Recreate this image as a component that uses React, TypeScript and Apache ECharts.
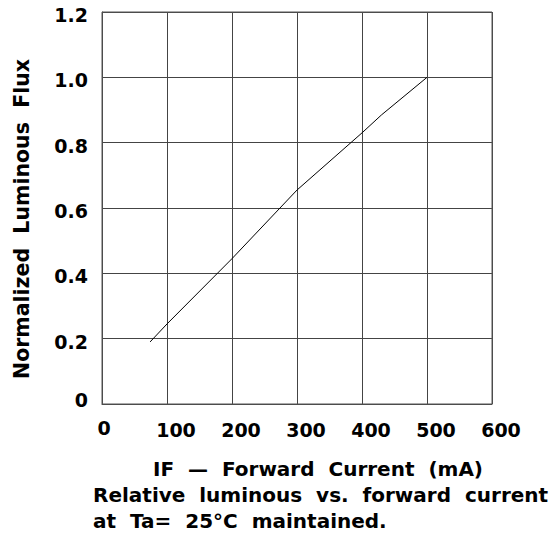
import React, { useEffect, useRef } from "react";
import * as echarts from "echarts";

const currentMA = [74, 100, 200, 300, 400, 430, 500];
const relativeFlux = [0.19, 0.245, 0.445, 0.655, 0.83, 0.885, 1.0];
const xTicks = [0, 100, 200, 300, 400, 500, 600];
const yTicks = ["0", "0.2", "0.4", "0.6", "0.8", "1.0", "1.2"];
const yAxisTitle = "Normalized  Luminous  Flux";
const xAxisTitle = "IF  \u2014  Forward  Current  (mA)";
const caption1 = "Relative  luminous  vs.  forward  current";
const caption2 = "at  Ta=  25\u00B0C  maintained.";

const FONT = "DejaVu Sans";

export default function App() {
  const ref = useRef<HTMLDivElement>(null);
  useEffect(() => {
    if (!ref.current) return;
    const chart = echarts.init(ref.current, null, { renderer: "svg" });
    const textStyle = { fontFamily: FONT, fontWeight: "bold" as const, fontSize: 20, fill: "#000" };
    const tickFont = { fontFamily: FONT, fontWeight: "bold" as const, fontSize: 19, color: "#000" };
    chart.setOption({
      animation: false,
      backgroundColor: "#fff",
      grid: { left: 102, right: 60, top: 12, bottom: 131, containLabel: false },
      xAxis: {
        type: "value",
        min: 0,
        max: 600,
        interval: 100,
        axisLine: { show: true, lineStyle: { color: "#444", width: 1 } },
        axisTick: { show: false },
        splitLine: { show: true, lineStyle: { color: "#444", width: 1 } },
        axisLabel: {
          margin: 14,
          ...tickFont,
          formatter: (v: number) => {
            const t = xTicks.find((k) => k === v) ?? v;
            return t === 0 ? `{z|${t}}` : `{a|${t}}`;
          },
          rich: {
            a: { ...tickFont, padding: [2, 0, 0, 18] },
            z: { ...tickFont, padding: [0, 0, 0, 4] },
          },
        },
      },
      yAxis: {
        type: "value",
        min: 0,
        max: 1.2,
        interval: 0.2,
        axisLine: { show: true, lineStyle: { color: "#444", width: 1 } },
        axisTick: { show: false },
        splitLine: { show: true, lineStyle: { color: "#444", width: 1 } },
        axisLabel: {
          margin: 14,
          ...tickFont,
          formatter: (v: number) => {
            const t = yTicks[Math.round(v / 0.2)] ?? String(v);
            return t === "0" ? `{z|${t}}` : `{a|${t}}`;
          },
          rich: {
            a: { ...tickFont, padding: [6, 0, 0, 0] },
            z: { ...tickFont, padding: [0, 0, 8, 0] },
          },
        },
      },
      graphic: [
        {
          type: "rect",
          shape: { x: 102, y: 12, width: 390, height: 392 },
          style: { fill: "none", stroke: "#555", lineWidth: 1 },
          silent: true,
          z: 10,
        },
        {
          type: "text",
          x: 22,
          y: 219,
          rotation: Math.PI / 2,
          style: { ...textStyle, fontSize: 20.5, text: yAxisTitle, align: "center", verticalAlign: "middle" },
        },
        {
          type: "text",
          x: 318,
          y: 469,
          style: { ...textStyle, text: xAxisTitle, align: "center", verticalAlign: "middle" },
        },
        {
          type: "text",
          x: 93,
          y: 495,
          style: { ...textStyle, text: caption1, align: "left", verticalAlign: "middle" },
        },
        {
          type: "text",
          x: 93,
          y: 521,
          style: { ...textStyle, text: caption2, align: "left", verticalAlign: "middle" },
        },
      ],
      series: [
        {
          type: "line",
          data: currentMA.map((x, i) => [x, relativeFlux[i]]),
          symbol: "none",
          smooth: false,
          lineStyle: { color: "#000", width: 1 },
        },
      ],
    });
    return () => chart.dispose();
  }, []);
  return (
    <div
      ref={ref}
      style={{ position: "fixed", left: 0, top: 0, width: 552, height: 535 }}
    />
  );
}
